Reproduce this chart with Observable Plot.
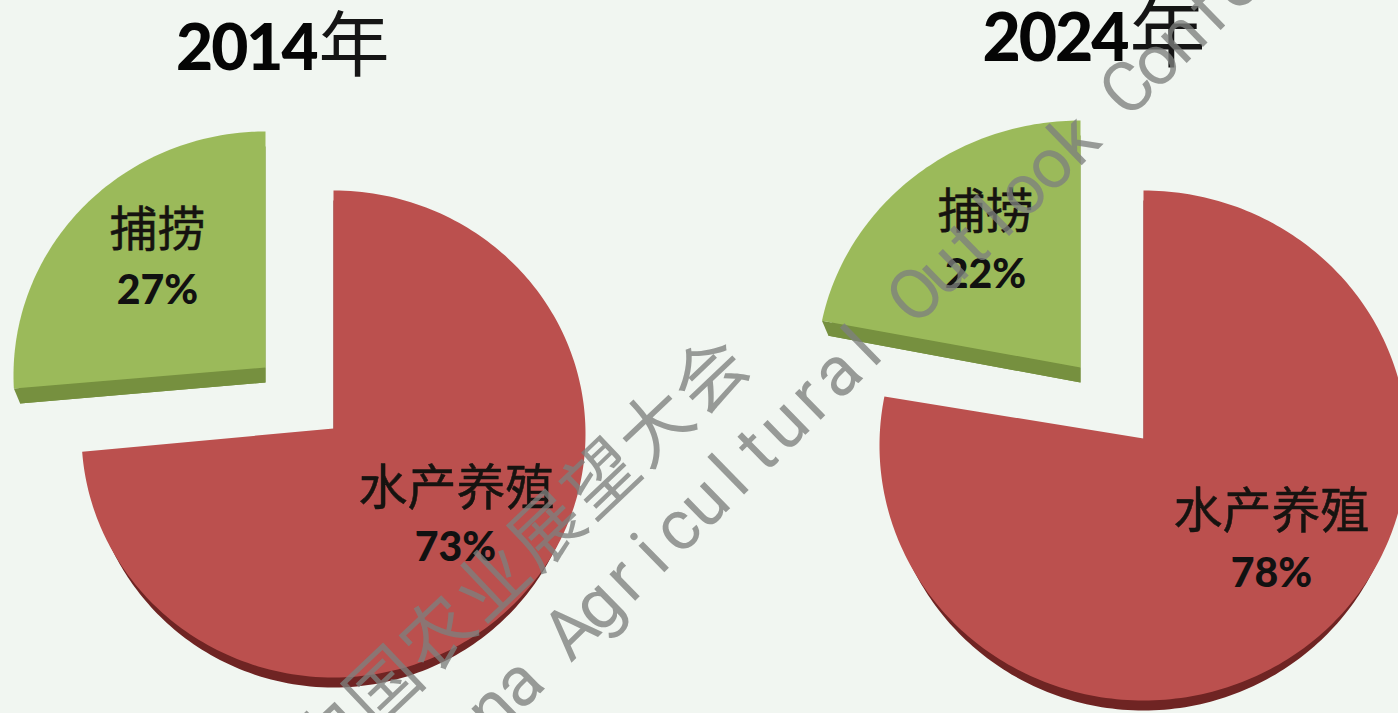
<!DOCTYPE html>
<html>
<head>
<meta charset="utf-8">
<script src="https://cdn.jsdelivr.net/npm/d3@7"></script>
<script src="https://cdn.jsdelivr.net/npm/@observablehq/plot@0.6"></script>
<style>
html,body{margin:0;padding:0;background:#f1f6f1;overflow:hidden}
svg{display:block}
.tight text{letter-spacing:-2px}
</style>
</head>
<body>
<div id="chart"></div>
<script>
// Data
const years = ["2014", "2024"];
const yearUnit = "年";
const categories = ["水产养殖", "捕捞"];
const shares2014 = [73, 27];
const shares2024 = [78, 22];
const watermarkZh = "中国农业展望大会";
const watermarkEn = "China Agricultural Outlook Conference";

// Drawing layout (perspective of the 3D pies, text placement)
const sliceStyle = [
  {face: "#bb504e", side: "#6f2423", depth: 10},
  {face: "#9bba5a", side: "#76903f", depth: 15}
];
const views = [
  {shares: shares2014, slices: [
    {ax: 333, ay: 428, cy: 433.5, rx: 252, ry: 243.5, tilt: 0.73},
    {ax: 265, ay: 367, cy: 375, rx: 252, ry: 244, tilt: 0.66}
  ], labels: [
    {x: 456, y: 489, px: 455, py: 562},
    {x: 157, y: 230, px: 157, py: 305}
  ], year: {x: 316, y: 72, size: 64, ux: 318, uy: 47, usize: 71}},
  {shares: shares2024, slices: [
    {ax: 1143, ay: 438, cy: 445, rx: 264, ry: 255, tilt: 0.85},
    {ax: 1080, ay: 367, cy: 371, rx: 264, ry: 251, tilt: 0.95}
  ], labels: [
    {x: 1271, y: 512, px: 1271, py: 588},
    {x: 985, y: 212, px: 985, py: 289}
  ], year: {x: 1127, y: 63, size: 66, ux: 1129, uy: 36, usize: 76}}
];

function slicePoints(g, from, to) {
  const pts = [{x: g.ax, y: g.ay}];
  for (let a = from; ; a = Math.min(a + 1, to)) {
    const t = a * Math.PI / 180, dx = Math.sin(t), dy = -Math.cos(t) * g.tilt;
    const oy = (g.ay - g.cy) / g.ry;
    const ux = dx / g.rx, uy = dy / g.ry;
    const A = ux * ux + uy * uy, B = 2 * oy * uy, C = oy * oy - 1;
    const s = (-B + Math.sqrt(B * B - 4 * A * C)) / (2 * A);
    pts.push({x: g.ax + s * dx, y: g.ay + s * dy});
    if (a >= to) break;
  }
  pts.push(pts[0]);
  return pts;
}

const marks = [];
const sans = "Lato, Carlito, 'Noto Sans', sans-serif";
const cjk = "'Noto Sans CJK SC', sans-serif";

views.forEach((v, i) => {
  let start = 0;
  v.shares.forEach((share, j) => {
    const from = start, to = start + share * 3.6;
    start = to;
    const g = v.slices[j];
    const pts = slicePoints(g, from, to);
    const st = sliceStyle[j];
    const shiftX = d => g.ax + (d.x - g.ax) * 0.975;
    const tip = pts[1];
    const wall = [tip, {x: shiftX(tip), y: tip.y + st.depth}, {x: g.ax, y: g.ay + st.depth}, pts[0], tip];
    marks.push(Plot.line(pts, {x: shiftX, y: d => d.y + st.depth, fill: st.side, stroke: "none"}));
    marks.push(Plot.line(wall, {x: "x", y: "y", fill: st.side, stroke: "none"}));
    marks.push(Plot.line(pts, {x: "x", y: "y", fill: st.face, stroke: "none"}));
  });
});

views.forEach((v, i) => {
  v.labels.forEach((l, j) => {
    marks.push(Plot.text([categories[j]], {
      x: () => l.x, y: () => l.y, text: d => d, fontFamily: cjk, fontSize: j === 0 ? 49 : 48,
      fill: "#161310", stroke: "#161310", strokeWidth: 0.5, textAnchor: "middle", lineAnchor: "middle"
    }));
    marks.push(Plot.text([v.shares[j] + "%"], {
      x: () => l.px, y: () => l.py, text: d => d, fontFamily: sans, fontWeight: 900, fontSize: 41,
      fill: "#111", textAnchor: "middle", lineAnchor: "bottom", dy: -2
    }));
  });
  const h = v.year;
  marks.push(Plot.text([years[i]], {
    x: () => h.x, y: () => h.y, text: d => d, fontFamily: sans, fontWeight: 900, fontSize: h.size,
    fill: "#050505", textAnchor: "end", lineAnchor: "bottom", dy: -3, className: "tight"
  }));
  marks.push(Plot.text([yearUnit], {
    x: () => h.ux, y: () => h.uy, text: d => d, fontFamily: cjk, fontSize: h.usize,
    fill: "#151515", textAnchor: "start", lineAnchor: "middle"
  }));
});

// Watermark: evenly spaced glyphs along a diagonal
const zhChars = Array.from(watermarkZh);
marks.push(Plot.text(zhChars, {
  x: (d, i) => 330 + i * 54.4, y: (d, i) => 739 - i * 51.8, text: d => d,
  rotate: -43.5, fontFamily: cjk, fontSize: 72, fill: "#7d807d", fillOpacity: 0.78,
  textAnchor: "middle", lineAnchor: "middle"
}));
const enChars = Array.from(watermarkEn);
marks.push(Plot.text(enChars, {
  x: (d, i) => 571 + (i - 6) * 26.52, y: (d, i) => 631 - (i - 6) * 25.86, text: d => d,
  rotate: -44.3, fontFamily: "Roboto, sans-serif", fontWeight: 400, fontSize: 70, fill: "#7d807d", fillOpacity: 0.78,
  textAnchor: "middle", lineAnchor: "middle"
}));

const chart = Plot.plot({
  width: 1398,
  height: 713,
  margin: 0,
  x: {type: "linear", domain: [0, 1398], range: [0, 1398], axis: null},
  y: {type: "linear", domain: [0, 713], range: [0, 713], axis: null},
  style: {background: "#f1f6f1", overflow: "hidden"},
  marks
});
document.getElementById("chart").appendChild(chart);
</script>
</body>
</html>
